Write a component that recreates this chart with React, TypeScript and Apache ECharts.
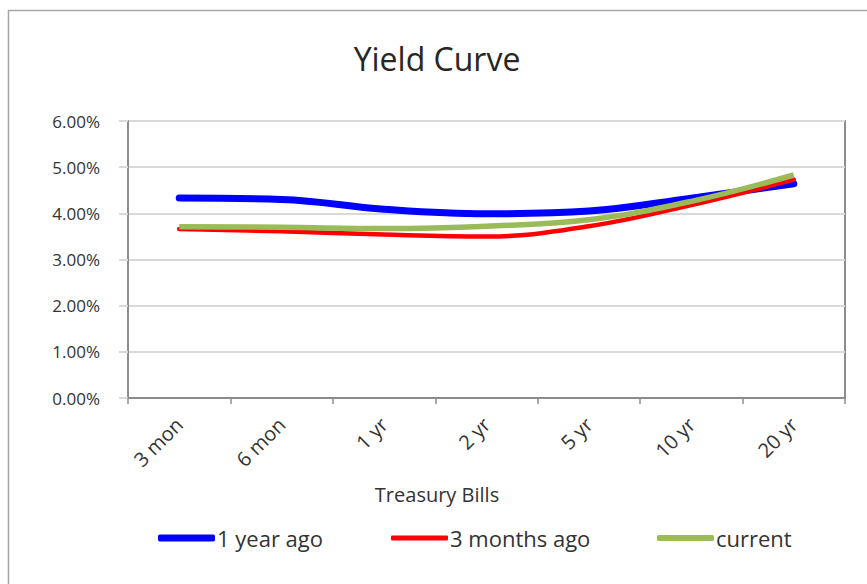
import React, { useEffect, useRef } from "react";
import * as echarts from "echarts";

const categories = ["3 mon", "6 mon", "1 yr", "2 yr", "5 yr", "10 yr", "20 yr"];
const oneYearAgo = [4.33, 4.3, 4.09, 3.99, 4.05, 4.33, 4.64];
const threeMonthsAgo = [3.66, 3.61, 3.54, 3.5, 3.72, 4.18, 4.73];
const current = [3.71, 3.7, 3.67, 3.72, 3.86, 4.26, 4.83];
const seriesNames = ["1 year ago", "3 months ago", "current"];
const yTicks = { min: 0, max: 6, interval: 1 };

const FONT = "Open Sans";
const TEXT = "#333333";

export default function App() {
  const ref = useRef<HTMLDivElement>(null);
  useEffect(() => {
    document.body.style.margin = "0";
    if (!ref.current) return;
    const chart = echarts.init(ref.current, null, { renderer: "svg" });
    const legendItem = (name: string, left: number, h: number) => ({
      show: true,
      data: [name],
      left,
      top: 541 - 14,
      itemWidth: 57,
      itemHeight: h,
      itemGap: 0,
      icon: "roundRect",
      padding: 0,
      textStyle: { fontFamily: FONT, fontSize: 22, color: TEXT, padding: [0, 0, 0, -3] },
      selectedMode: false,
    });
    chart.setOption({
      animation: false,
      backgroundColor: "#ffffff",
      graphic: [
        {
          type: "rect",
          shape: { x: 8.5, y: 10.5, width: 900, height: 600 },
          style: { fill: "none", stroke: "#a6a6a6", lineWidth: 1.5 },
          silent: true,
        },
        {
          type: "text",
          x: 437,
          y: 58,
          style: {
            text: "Yield Curve",
            fontFamily: FONT,
            fontSize: 32,
            fill: "#262626",
            align: "center",
            verticalAlign: "middle",
          },
        },
        {
          type: "text",
          x: 437,
          y: 494,
          style: {
            text: "Treasury Bills",
            fontFamily: FONT,
            fontSize: 20,
            fill: TEXT,
            align: "center",
            verticalAlign: "middle",
          },
        },
      ],
      legend: [
        legendItem(seriesNames[0], 158, 7),
        legendItem(seriesNames[1], 391, 5),
        legendItem(seriesNames[2], 657, 6),
      ],
      grid: {
        left: 128,
        right: 22,
        top: 121,
        bottom: 186,
        show: true,
        borderColor: "#8c8c8c",
        borderWidth: 2,
        containLabel: false,
      },
      xAxis: {
        type: "category",
        data: categories,
        boundaryGap: true,
        axisLine: { show: true, lineStyle: { color: "#8c8c8c", width: 2 } },
        axisTick: { show: true, length: 6, lineStyle: { color: "#8c8c8c", width: 1.5 } },
        axisLabel: {
          rotate: 45,
          margin: 23,
          fontFamily: FONT,
          fontSize: 20,
          color: TEXT,
        },
        splitLine: { show: false },
      },
      yAxis: {
        type: "value",
        min: yTicks.min,
        max: yTicks.max,
        interval: yTicks.interval,
        axisLine: { show: true, lineStyle: { color: "#8c8c8c", width: 2 } },
        axisTick: { show: true, length: 9, lineStyle: { color: "#d9d9d9", width: 2 } },
        axisLabel: {
          margin: 28,
          fontFamily: FONT,
          fontSize: 17,
          color: TEXT,
          formatter: (v: number) => v.toFixed(2) + "%",
        },
        splitLine: { show: true, lineStyle: { color: "#d9d9d9", width: 2 } },
      },
      series: [
        {
          name: seriesNames[0],
          type: "line",
          data: oneYearAgo,
          smooth: 0.4,
          showSymbol: false,
          symbol: "none",
          color: "#0000ff",
          lineStyle: { width: 7, color: "#0000ff", cap: "round", join: "round" },
        },
        {
          name: seriesNames[1],
          type: "line",
          data: threeMonthsAgo,
          smooth: 0.4,
          showSymbol: false,
          symbol: "none",
          color: "#ff0000",
          lineStyle: { width: 4.5, color: "#ff0000", cap: "round", join: "round" },
        },
        {
          name: seriesNames[2],
          type: "line",
          data: current,
          smooth: 0.4,
          showSymbol: false,
          symbol: "none",
          color: "#9bbb59",
          lineStyle: { width: 5.5, color: "#9bbb59", cap: "butt", join: "round" },
        },
      ],
    });
    return () => chart.dispose();
  }, []);
  return <div ref={ref} style={{ width: 867, height: 584 }} />;
}
